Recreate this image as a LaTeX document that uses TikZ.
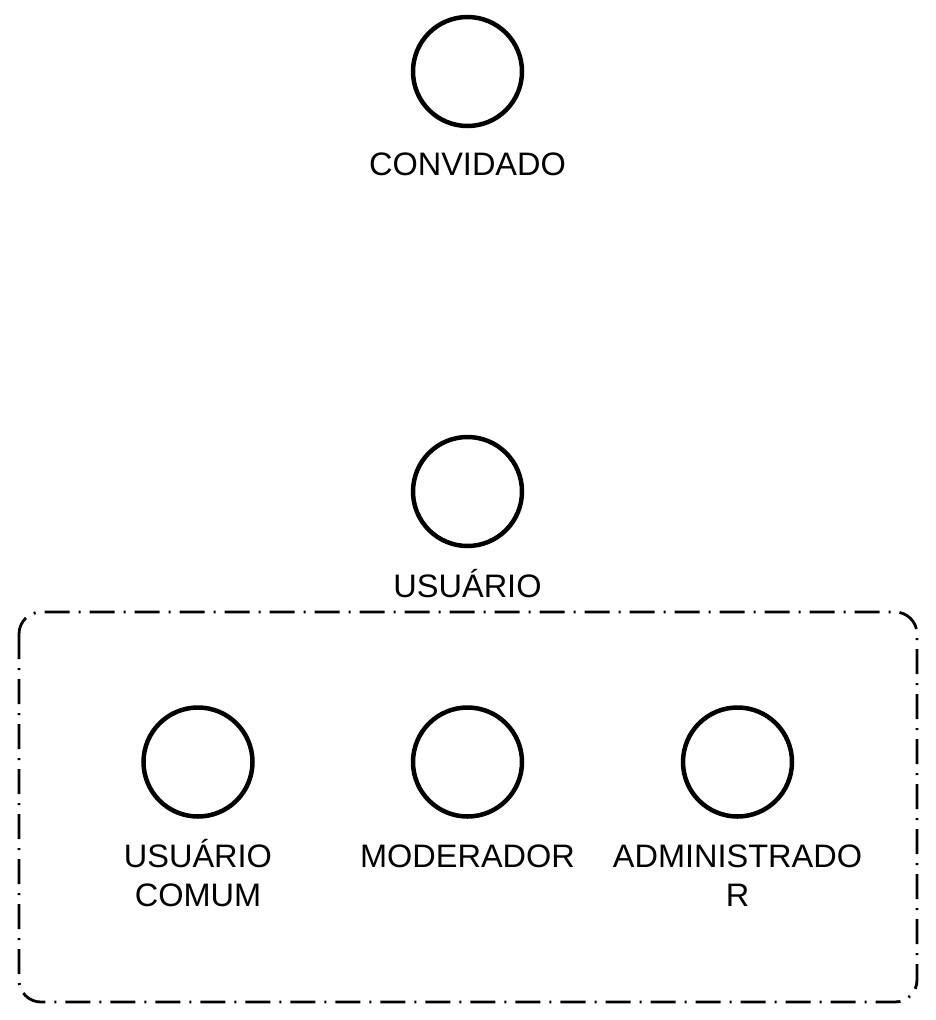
\documentclass[tikz,border=0pt]{standalone}
\usepackage{fontspec}
\setmainfont{Liberation Sans}
\begin{document}
\begin{tikzpicture}[x=1pt, y=-1pt,
    actor/.style={circle, draw, line width=4.5pt, minimum size=109pt, inner sep=0pt},
    rotulo/.style={anchor=base, align=center, inner sep=0pt, font=\fontsize{32.5}{39}\selectfont}]
      \useasboundingbox (0,0) rectangle (936,1020);
      \node[actor] (convidado) at (467.5,71.5) {};
      \node[rotulo] (convidadotxt) at (467.5,175) {CONVIDADO};
      \node[actor] (usuario) at (467.5,491.5) {};
      \node[rotulo] (usuariotxt) at (467.5,597) {USUÁRIO};
      \draw[line width=2.8pt, rounded corners=22pt, dash pattern=on 25pt off 9pt on 2pt off 9pt] (19,612) rectangle (917,1002);
      \node[actor] (comum) at (198,762) {};
      \node[rotulo] (comumtxt) at (198,906) {USUÁRIO\\COMUM};
      \node[actor] (moderador) at (467.5,762) {};
      \node[rotulo] (moderadortxt) at (467.5,867) {MODERADOR};
      \node[actor] (admin) at (737.5,762) {};
      \node[rotulo] (admintxt) at (737.5,906) {ADMINISTRADO\\R};
    \end{tikzpicture}
\end{document}
